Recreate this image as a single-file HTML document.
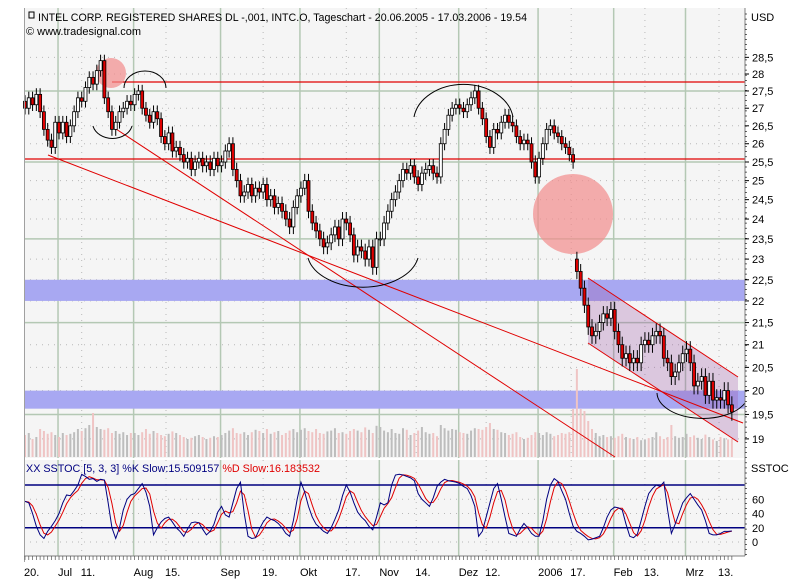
<!DOCTYPE html>
<html><head><meta charset="utf-8"><style>
html,body{margin:0;padding:0;background:#fff;}
svg{display:block;font-family:"Liberation Sans",sans-serif;}
</style></head><body>
<svg id="chart" width="803" height="588" viewBox="0 0 803 588" xmlns="http://www.w3.org/2000/svg">
  <rect x="0" y="0" width="803" height="588" fill="#fff"/>
  <rect x="24" y="8" width="721" height="450" fill="#f5f5f5"/>
  <rect x="24" y="460" width="721" height="96" fill="#f5f5f5"/>
  <g id="grid"></g>
  <g id="bands"></g>
  <g id="volume"></g>
  <g id="overlays"></g>
  <g id="candles"></g>
  <g id="stoch"></g>
  <g id="axes"></g>
  <text x="38" y="21" font-size="11" fill="#000" textLength="489" lengthAdjust="spacingAndGlyphs">INTEL CORP. REGISTERED SHARES DL -,001, INTC.O, Tageschart - 20.06.2005 - 17.03.2006 - 19.54</text>
  <rect x="29" y="12" width="5" height="6" fill="none" stroke="#000"/>
  <text x="26" y="35" font-size="11" fill="#000">© www.tradesignal.com</text>
  <text x="751" y="21" font-size="11">USD</text>
  <text x="26" y="472" font-size="11" fill="#000080" textLength="294" lengthAdjust="spacingAndGlyphs">XX SSTOC [5, 3, 3] %K Slow:15.509157 <tspan fill="#e00000">%D Slow:16.183532</tspan></text>
  <text x="751" y="472" font-size="11">SSTOC</text>
</svg>
<script>
const closes = [
27.0,27.3,27.1,27.4,26.9,26.4,26.1,25.9,26.6,
26.3,26.6,26.2,26.5,26.9,27.3,27.2,27.6,27.9,27.7,28.1,28.4,27.3,26.9,26.4,26.6,26.9,27.0,27.2,27.1,
27.4,27.5,27.0,26.8,26.6,26.9,26.7,26.2,26.0,26.3,25.8,25.9,25.7,25.5,25.6,25.3,25.5,25.6,25.4,25.5,25.3,25.6,25.4,
25.5,25.8,26.0,25.3,25.0,24.6,24.7,24.9,24.6,24.8,24.7,24.9,24.5,24.6,24.3,24.4,24.2,24.0,23.8,24.3,24.6,
24.8,25.0,24.2,23.9,23.7,23.5,23.3,23.4,23.6,23.8,23.5,24.0,23.9,23.6,23.1,23.3,23.2,23.0,23.3,22.8,23.5,
23.5,23.9,24.2,24.5,24.7,25.0,25.3,25.2,25.4,25.1,24.9,25.2,25.3,25.4,25.2,25.1,26.0,26.4,26.8,27.0,27.1,
27.0,26.9,27.1,27.3,27.5,27.0,26.7,26.2,25.9,26.4,26.3,26.6,26.8,26.6,26.5,26.2,26.0,26.1,26.0,25.5,25.1,
25.6,26.0,26.4,26.5,26.3,26.2,26.0,25.9,25.7,25.5,22.7,22.3,21.9,21.4,21.2,21.3,21.5,21.7,21.6,21.8,
21.3,21.0,20.7,20.8,20.6,20.7,20.6,21.0,21.1,21.0,21.2,21.3,21.2,20.7,20.6,20.3,20.4,20.6,20.8,
20.9,20.6,20.1,20.2,20.3,19.9,20.2,19.8,19.85,19.8,20.0,19.7,19.55];
const openOverrides = {0:27.2, 146:23.0};
const volumes = [
55,60,45,50,70,65,58,62,55,
50,60,55,58,62,70,65,72,80,110,75,70,68,72,60,65,58,62,55,60,
60,55,62,70,58,65,60,55,52,58,64,60,55,50,45,48,52,55,50,45,48,52,50,
55,60,66,72,60,58,62,55,62,68,65,60,70,58,62,65,55,60,66,70,62,
68,72,65,62,70,60,58,64,66,72,60,62,58,65,70,66,62,74,68,60,78,
75,66,62,70,60,58,72,68,55,60,66,75,62,58,60,52,80,72,66,70,68,
62,60,58,66,72,70,68,75,85,70,68,62,60,55,58,62,50,45,48,55,62,
60,55,62,58,52,55,60,58,62,120,220,120,115,90,70,60,52,55,50,52,
48,52,58,50,47,45,50,42,44,47,50,62,52,45,50,80,52,48,50,
58,50,54,48,45,56,50,44,40,50,47,44,45];
const stochK = [57,55,40,22,10,5,15,22,30,40,55,66,65,72,80,95,92,88,89,85,88,87,55,20,5,20,45,60,66,68,75,82,70,50,10,20,28,33,35,28,20,15,8,18,27,28,27,18,10,15,25,42,50,38,35,55,75,84,40,8,5,6,18,28,35,32,30,26,20,12,8,30,60,84,70,50,35,25,20,15,12,20,32,45,65,80,70,55,42,35,30,22,17,35,55,52,55,80,94,95,94,92,90,86,68,60,55,50,62,78,84,88,86,85,84,82,78,75,65,50,8,15,35,55,75,82,60,35,12,10,8,18,26,20,12,8,8,30,60,80,89,85,72,60,40,22,15,12,8,3,4,6,8,20,35,45,49,48,45,25,8,6,11,30,50,68,75,80,78,84,45,12,25,40,55,62,68,60,52,45,30,12,10,10,12,15,15,15.5];
const priceTicks = [28.5,28,27.5,27,26.5,26,25.5,25,24.5,24,23.5,23,22.5,22,21.5,21,20.5,20,19.5,19];
const stochTicks = [60,40,20,0];
const monthLabels = ["Jul","Aug","Sep","Okt","Nov","Dez","2006","Feb","Mrz"];
const monthIdx = [9,29,52,73,94,115,136,156,175];
const dayLabels = ["20.","11.","15.","19.","17.","14.","12.","17.","13.","13."];
const dayIdx = [0,15,37.3,63,85,103.5,122,144.5,164,183.6];

const NS="http://www.w3.org/2000/svg";
function mk(tag,attrs,parent){const e=document.createElementNS(NS,tag);for(const k in attrs)e.setAttribute(k,attrs[k]);parent.appendChild(e);return e;}
const xOf = i => 25 + i*3.78;
const yP = p => 74 + 941*Math.log(28/p);
const yS = v => 542 - v*0.7125;
const yV = v => 457 - v*0.4;
const g=id=>document.getElementById(id);

const grid=g('grid');
priceTicks.forEach(p=>{
  const solid = Math.abs(((p-19.5)/2)-Math.round((p-19.5)/2))<1e-6;
  const l=mk('line',{x1:24,x2:745,y1:yP(p),y2:yP(p),stroke:solid?'#b4c8b4':'#b8b8b8','stroke-width':solid?1.5:1,'stroke-dasharray':solid?'':'1 5'},grid);
  
  
});
[60,40,0].forEach(v=>{
  const l=mk('line',{x1:24,x2:745,y1:yS(v),y2:yS(v),stroke:'#b8b8b8','stroke-dasharray':'1 5'},grid);
  
  
});
monthIdx.forEach(i=>{
  const x=xOf(i)-1;
  [[8,458],[460,556]].forEach(r=>{
    const l=mk('line',{x1:x,x2:x,y1:r[0],y2:r[1],stroke:'#b4c8b4','stroke-width':1.5},grid);
    
    
  });
});
dayIdx.slice(1).forEach(i=>{
  const x=xOf(i);
  [[8,458],[460,556]].forEach(r=>{
    const l=mk('line',{x1:x,x2:x,y1:r[0],y2:r[1],stroke:'#b8b8b8','stroke-dasharray':'1 5'},grid);
    
    
  });
});

const bands=g('bands');
[[22.5,22.0],[20.0,19.62]].forEach(b=>{
  const r=mk('rect',{x:24,y:yP(b[0]),width:721,height:yP(b[1])-yP(b[0]),fill:'#a8a8f2'},bands);
  
  
});

const opens = closes.map((c,i)=> openOverrides[i]!==undefined ? openOverrides[i] : closes[i-1]);

const vol=g('volume');
volumes.forEach((v,i)=>{
  const down = closes[i]<opens[i];
  const r=mk('rect',{x:xOf(i)-1,y:yV(v),width:2,height:457-yV(v),fill:down?'#efc4c4':'#bdbdbd'},vol);
  
  
});

const ov=g('overlays');
function tag(e,n){}
let e;
e=mk('polygon',{points:'588,278 738,377 738,442 588,343',fill:'rgba(150,80,160,0.28)'},ov); tag(e,'trend-channel');
e=mk('line',{x1:588,y1:278,x2:738,y2:377,stroke:'#e00000'},ov); tag(e,'channel-upper');
e=mk('line',{x1:588,y1:343,x2:738,y2:442,stroke:'#e00000'},ov); tag(e,'channel-lower');
e=mk('line',{x1:112,y1:82,x2:745,y2:82,stroke:'#e00000','stroke-width':1.3},ov); tag(e,'resistance-line');
e=mk('line',{x1:24,y1:159,x2:745,y2:159,stroke:'#e00000','stroke-width':1.3},ov); tag(e,'support-line');
e=mk('line',{x1:48,y1:155,x2:743,y2:423,stroke:'#e00000'},ov); tag(e,'trendline-a');
e=mk('line',{x1:116,y1:129,x2:615,y2:457,stroke:'#e00000'},ov); tag(e,'trendline-b');
e=mk('circle',{cx:111,cy:73,r:15,fill:'rgba(242,140,140,0.7)'},ov); tag(e,'highlight-circle-small');
e=mk('circle',{cx:573,cy:214,r:40,fill:'rgba(242,140,140,0.7)'},ov); tag(e,'highlight-circle-large');
[['M124,88 A21,17 0 0 1 166,88','arc-top-aug'],['M93,126 A20,16 0 0 0 132,126','arc-bottom-jul'],
 ['M414,117 A50,38 0 0 1 513,117','arc-top-dec'],['M308,258 A56,36 0 0 0 418,258','arc-bottom-oct'],
 ['M657,393 A46,26 0 0 0 745,403','arc-bottom-mar']].forEach(a=>{
  const p=mk('path',{d:a[0],fill:'none',stroke:'#000'},ov);
  
  
});

const cg=g('candles');
closes.forEach((c,i)=>{
  const o=opens[i], x=xOf(i);
  const hi=Math.max(o,c)+0.18, lo=Math.min(o,c)-0.18;
  const w=mk('line',{x1:x,x2:x,y1:yP(hi),y2:yP(lo),stroke:'#000'},cg);
  
  
  const top=yP(Math.max(o,c)), bot=yP(Math.min(o,c));
  const b=mk('rect',{x:x-1.5,y:top,width:3,height:Math.max(1,bot-top),fill:c<o?'#e00000':'#fff',stroke:'#000','stroke-width':0.8},cg);
  
  
});

const sg=g('stoch');
[80,20].forEach(v=>{
  const l=mk('line',{x1:24,x2:745,y1:yS(v),y2:yS(v),stroke:'#000080','stroke-width':1.5},sg);
  
  
});
const stochD = stochK.map((v,i)=>{const a=stochK.slice(Math.max(0,i-2),i+1);return a.reduce((s,t)=>s+t,0)/a.length;});
const dl=mk('polyline',{points:stochD.map((v,i)=>xOf(i)+','+yS(v)).join(' '),fill:'none',stroke:'#e00000','stroke-width':1},sg);


const kl=mk('polyline',{points:stochK.map((v,i)=>xOf(i)+','+yS(v)).join(' '),fill:'none',stroke:'#000080','stroke-width':1},sg);



const ax=g('axes');
e=mk('line',{x1:24.5,x2:24.5,y1:8,y2:562,stroke:'#a0a0a0'},ax); tag(e,'left-axis');
e=mk('line',{x1:745,x2:745,y1:8,y2:556,stroke:'#808080'},ax); tag(e,'right-axis');
e=mk('line',{x1:24,x2:745,y1:556,y2:556,stroke:'#808080'},ax); tag(e,'x-axis');
priceTicks.forEach(p=>{
  const y=yP(p);
  const t=mk('line',{x1:745,x2:749,y1:y,y2:y,stroke:'#000'},ax);
  
  
  const lb=mk('text',{x:752,y:y+4,'font-size':11},ax);
  lb.textContent=String(p).replace('.',',');
  
  
});
for(let y=14;y<556;y+=5.1){
  const t=mk('line',{x1:745,x2:747,y1:y,y2:y,stroke:'#000','stroke-width':0.6},ax);
  
  
}
stochTicks.forEach(v=>{
  const y=yS(v);
  const lb=mk('text',{x:752,y:y+4,'font-size':11},ax);
  lb.textContent=v;
  
  
});
closes.forEach((c,i)=>{
  const t=mk('line',{x1:xOf(i),x2:xOf(i),y1:556,y2:560,stroke:'#555','stroke-width':0.7},ax);
  
  
});
monthLabels.forEach((m,k)=>{
  const lb=mk('text',{x:xOf(monthIdx[k])-1,y:576,'font-size':11},ax);
  lb.textContent=m;
  
  
});
dayLabels.forEach((d,k)=>{
  const lb=mk('text',{x:xOf(dayIdx[k])-1,y:576,'font-size':11},ax);
  lb.textContent=d;
  
  
});
</script>
</body></html>
